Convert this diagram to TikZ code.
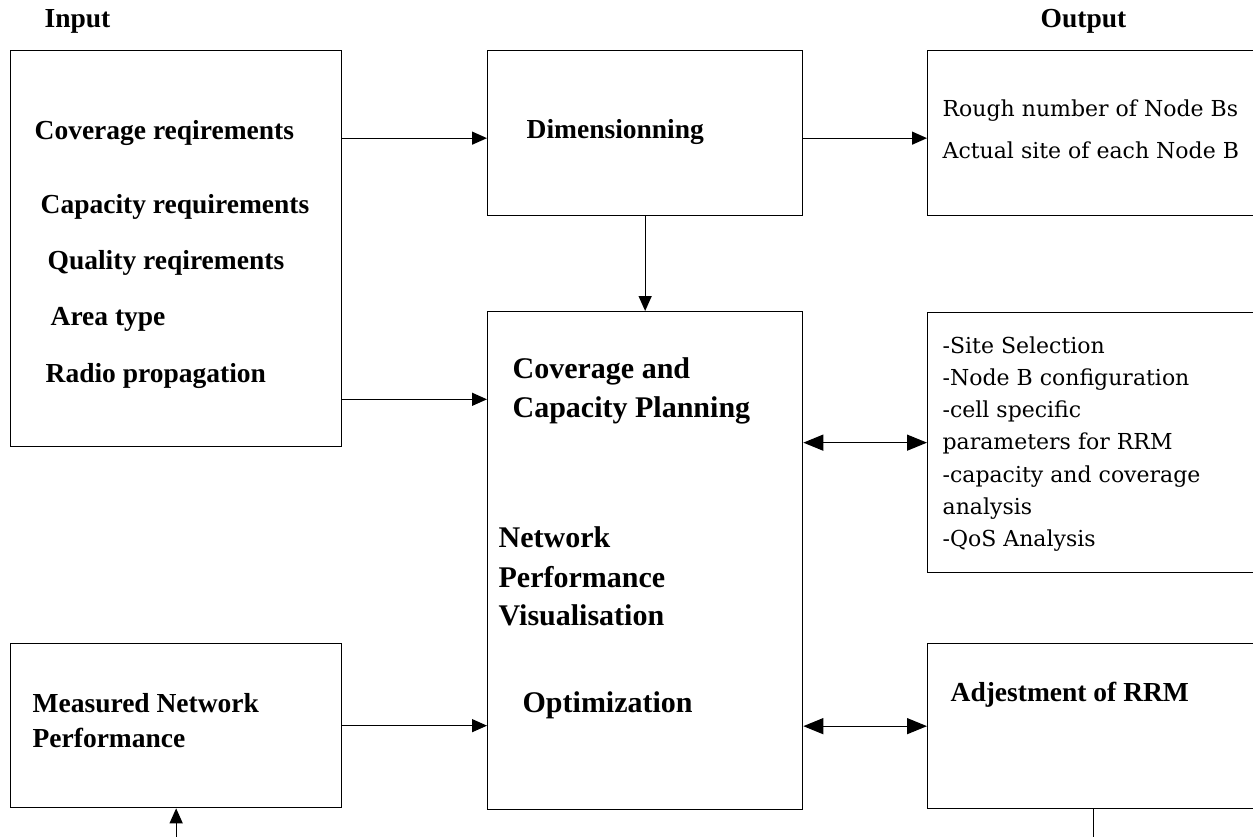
\documentclass[tikz,border=0pt]{standalone}
\usepackage{fontspec}
\setmainfont{Liberation Serif}
\newfontfamily\notefont{DejaVu Serif}
\usetikzlibrary{arrows.meta}

\begin{document}
\begin{tikzpicture}[x=1pt,y=-1pt,line width=1.3pt,
  box/.style={draw,anchor=north west,inner sep=0pt},
  arr/.style={-{Triangle[length=15pt,width=13pt]}},
  darr/.style={{Triangle[length=20pt,width=16pt]}-{Triangle[length=20pt,width=16pt]}},
  lbl/.style={anchor=base west,inner sep=0pt,font=\bfseries\fontsize{27.5}{33}\selectfont},
  bigl/.style={lbl,font=\bfseries\fontsize{30}{36}\selectfont},
  note/.style={anchor=base west,inner sep=0pt,font=\notefont\fontsize{22}{26}\selectfont}]
\path[use as bounding box] (0,0) rectangle (1253,836);
% boxes
\node[box,minimum width=331pt,minimum height=396pt] (input) at (10,50) {};
\node[box,minimum width=315pt,minimum height=165pt] (dim) at (487,50) {};
\node[box,minimum width=331pt,minimum height=165pt] (out) at (927,50) {};
\node[box,minimum width=315pt,minimum height=498pt] (ccp) at (487,311) {};
\node[box,minimum width=331pt,minimum height=260pt] (sel) at (927,312) {};
\node[box,minimum width=331pt,minimum height=164pt] (meas) at (10,643) {};
\node[box,minimum width=331pt,minimum height=165pt] (adj) at (927,643) {};
% headings
\node[lbl] (inlbl) at (44,27) {Input};
\node[lbl] (outlbl) at (1040,27) {Output};
% input list
\node[lbl] (cov) at (34,139) {Coverage reqirements};
\node[lbl] (cap) at (40,213) {Capacity requirements};
\node[lbl] (qua) at (47,269) {Quality reqirements};
\node[lbl] (area) at (50,325) {Area type};
\node[lbl] (radio) at (45,382) {Radio propagation};
\node[lbl] (dimlbl) at (526,138) {Dimensionning};
\node[note] (rough) at (942,116) {Rough number of Node Bs};
\node[note] (site) at (942,158) {Actual site of each Node B};
% planning box
\node[bigl] (ccp1) at (512,378) {Coverage and};
\node[bigl] (ccp2) at (512,417) {Capacity Planning};
\node[bigl] (npv1) at (498,547) {Network};
\node[bigl] (npv2) at (498,587) {Performance};
\node[bigl] (npv3) at (498,625) {Visualisation};
\node[bigl] (opt) at (522,712) {Optimization};
% planning outputs
\foreach \txt [count=\i from 0] in {-Site Selection,-Node B configuration,-cell specific,parameters for RRM,-capacity and coverage,analysis,-QoS Analysis}
  \node[note] (sel\i) at (942,353+32.3*\i) {\txt};
\node[lbl] (meas1) at (32,712) {Measured Network};
\node[lbl] (meas2) at (32,747) {Performance};
\node[lbl] (adjlbl) at (950,701) {Adjestment of RRM};
% connectors
\coordinate (a1) at ([yshift=-5pt]dim.west);
\coordinate (a2) at ([yshift=48pt]input.south east);
\coordinate (fb1) at ([yshift=-30pt]meas.south);
\coordinate (fb2) at ([yshift=-30pt]adj.south);
\draw[arr] (a1 -| input.east) -- (a1);
\draw[arr] (a1 -| dim.east) -- (a1 -| out.west);
\draw[arr] (dim.south) -- (ccp.north);
\draw[arr] (a2) -- (a2 -| ccp.west);
\draw[arr] (meas.east) -- (meas.east -| ccp.west);
\draw[darr] (sel.west -| ccp.east) -- (sel.west);
\draw[darr] (adj.west -| ccp.east) -- (adj.west);
\draw[arr] (fb1) -- (meas.south);
\draw (adj.south) -- (fb2);
\end{tikzpicture}
\end{document}
